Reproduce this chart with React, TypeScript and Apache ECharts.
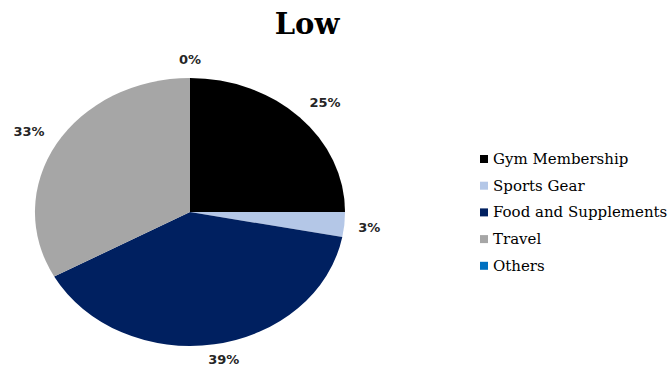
import React, { useEffect, useRef } from "react";
import * as echarts from "echarts";

const categories = ["Gym Membership", "Sports Gear", "Food and Supplements", "Travel", "Others"];
const shares = [25, 3, 39, 33, 0];
const colors = ["#000000", "#b4c7e7", "#002060", "#a6a6a6", "#0070c0"];
const titleText = "Low";

const clamp = (v: number) => Math.max(-1, Math.min(1, v));

export default function App() {
  const ref = useRef<HTMLDivElement>(null);
  useEffect(() => {
    if (!ref.current) return;
    const chart = echarts.init(ref.current, undefined, { renderer: "svg" });
    const total = shares.reduce((a, b) => a + b, 0);
    const cx = 190;
    const cy = 212;
    const rx = 155;
    const ry = 134;
    const gap = 14;
    const hh = 5;
    const series = categories.map((name, i) => ({
      type: "custom",
      name,
      coordinateSystem: "none",
      data: [[shares[i]]],
      itemStyle: { color: colors[i] },
      renderItem: (params: any, api: any) => {
        const before = shares.slice(0, i).reduce((a, b) => a + b, 0);
        const v = api.value(0);
        const a0 = -Math.PI / 2 + (2 * Math.PI * before) / total;
        const a1 = a0 + (2 * Math.PI * v) / total;
        const mid = (a0 + a1) / 2;
        const label = v + "%";
        const hw = ((label.length - 1) * 9.05 + 13) / 2;
        const c = Math.cos(mid);
        const s = Math.sin(mid);
        const ly = Math.min(cy + (ry + gap) * s + hh * clamp(3 * s), api.getHeight() - 10);
        return {
          type: "group",
          children: [
            {
              type: "group",
              x: cx,
              y: cy,
              scaleX: rx / ry,
              children: [
                {
                  type: "sector",
                  shape: { cx: 0, cy: 0, r0: 0, r: ry, startAngle: a0, endAngle: a1, clockwise: true },
                  style: { fill: api.visual("color") },
                },
              ],
            },
            {
              type: "text",
              x: cx + (rx + gap) * c + hw * clamp(3 * c),
              y: ly,
              style: {
                text: label,
                fill: "#262626",
                font: "bold 13px 'DejaVu Sans'",
                align: "center",
                verticalAlign: "middle",
              },
            },
          ],
        };
      },
    }));
    chart.setOption({
      animation: false,
      backgroundColor: "#ffffff",
      title: {
        text: titleText,
        left: 302,
        top: 4,
        textAlign: "center",
        textStyle: { fontFamily: "DejaVu Serif", fontWeight: "bold", fontSize: 29, color: "#000" },
      },
      legend: {
        orient: "vertical",
        left: 475,
        top: 146,
        icon: "rect",
        itemWidth: 8,
        itemHeight: 8,
        itemGap: 10.7,
        data: categories,
        textStyle: { fontFamily: "DejaVu Serif", fontSize: 15, color: "#000", lineHeight: 16 },
      },
      series,
    } as any);
    return () => chart.dispose();
  }, []);
  return (
    <div
      ref={ref}
      style={{ position: "absolute", left: 0, top: 0, width: 671, height: 369, background: "#fff" }}
    />
  );
}
